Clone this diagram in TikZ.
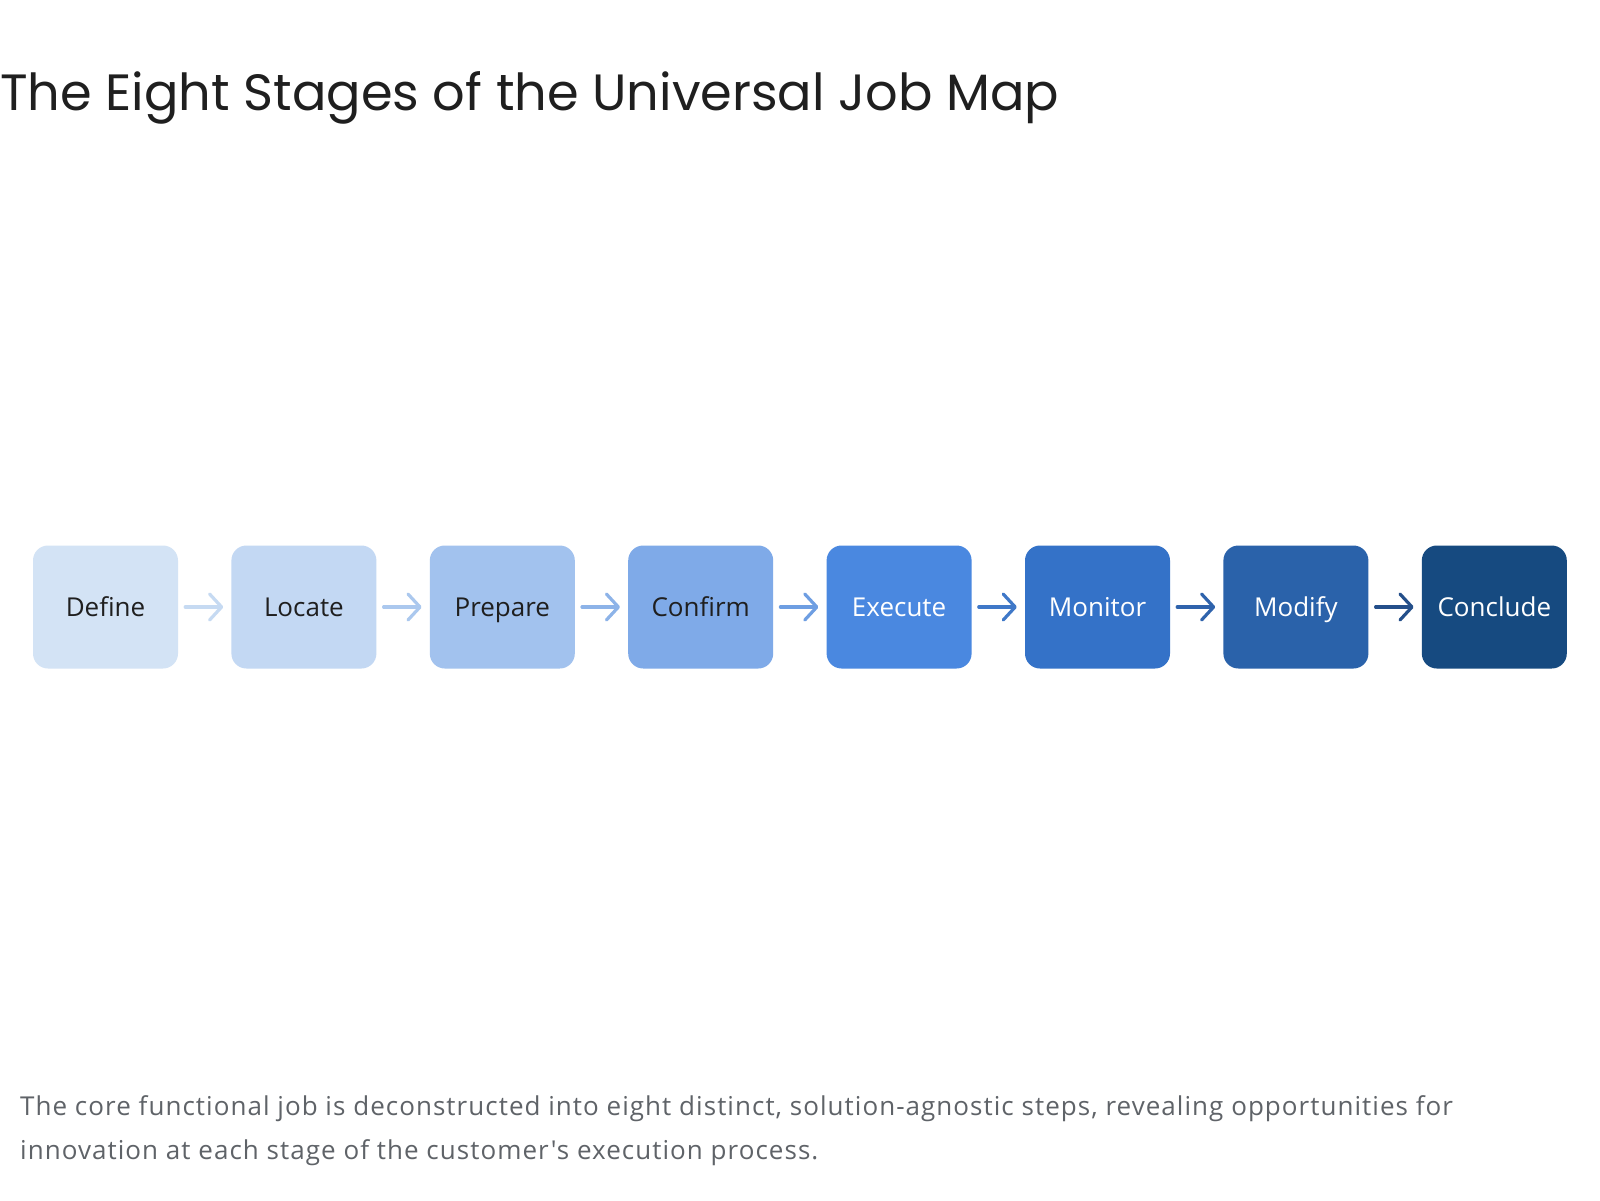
\documentclass[tikz,border=0pt]{standalone}
\usepackage{fontspec}
\setmainfont{Open Sans}
\newfontfamily\titlefont{Poppins}
\newfontfamily\capfont[LetterSpace=4]{Open Sans}
\newfontfamily\boxfont{Open Sans}
\usetikzlibrary{arrows.meta}
\definecolor{cA}{HTML}{D3E3F5}
\definecolor{cB}{HTML}{C3D8F3}
\definecolor{cC}{HTML}{A2C2EE}
\definecolor{cD}{HTML}{7FAAE8}
\definecolor{cE}{HTML}{4A88E0}
\definecolor{cF}{HTML}{3472C8}
\definecolor{cG}{HTML}{2A62AA}
\definecolor{cH}{HTML}{164A80}
\definecolor{aA}{HTML}{C6DAF2}
\definecolor{aB}{HTML}{ABC8EE}
\definecolor{aC}{HTML}{8DB3E8}
\definecolor{aD}{HTML}{6E9EE2}
\definecolor{aE}{HTML}{3F78C8}
\definecolor{aF}{HTML}{2F63AC}
\definecolor{aG}{HTML}{244F8A}
\definecolor{ink}{HTML}{1F1F1F}
\definecolor{capgray}{HTML}{5F6368}
\tikzset{
  stagebox/.style={rounded corners=15pt, minimum width=145pt, minimum height=123pt, inner sep=0pt, text height=19pt, text depth=0pt, font=\boxfont\fontsize{26}{30}\selectfont},
  darktext/.style={text=ink},
  lighttext/.style={text=white},
  flowarrow/.style={line width=3.2pt, line cap=round, -{Straight Barb[length=12pt,width=26pt,line cap=round,line join=round]}},
}
\begin{document}
\begin{tikzpicture}[x=1pt,y=-1pt]
\useasboundingbox (0,0) rectangle (1600,1200);
\fill[white] (0,0) rectangle (1600,1200);
\node[anchor=base west, inner sep=0pt, text=ink, font=\titlefont\fontsize{51}{60}\selectfont] (title) at (0,110) {The Eight Stages of the Universal Job Map};
\foreach \i/\name/\lbl/\col/\tc in {0/s1/Define/cA/darktext,1/s2/Locate/cB/darktext,2/s3/Prepare/cC/darktext,3/s4/Confirm/cD/darktext,4/s5/Execute/cE/lighttext,5/s6/Monitor/cF/lighttext,6/s7/Modify/cG/lighttext,7/s8/Conclude/cH/lighttext}{
  \node[stagebox, fill=\col, \tc] (\name) at ({105.5+198.4*\i},607) {\lbl};
}
\draw[flowarrow, aA] ([xshift=7pt]s1.east) -- ([xshift=-8pt]s2.west);
\draw[flowarrow, aB] ([xshift=7pt]s2.east) -- ([xshift=-8pt]s3.west);
\draw[flowarrow, aC] ([xshift=7pt]s3.east) -- ([xshift=-8pt]s4.west);
\draw[flowarrow, aD] ([xshift=7pt]s4.east) -- ([xshift=-8pt]s5.west);
\draw[flowarrow, aE] ([xshift=7pt]s5.east) -- ([xshift=-8pt]s6.west);
\draw[flowarrow, aF] ([xshift=7pt]s6.east) -- ([xshift=-8pt]s7.west);
\draw[flowarrow, aG] ([xshift=7pt]s7.east) -- ([xshift=-8pt]s8.west);
\node[anchor=base west, inner sep=0pt, text=capgray, font=\capfont\fontsize{26}{30}\selectfont] (cap1) at (20,1115) {The core functional job is deconstructed into eight distinct, solution-agnostic steps, revealing opportunities for};
\node[anchor=base west, inner sep=0pt, text=capgray, font=\capfont\fontsize{26}{30}\selectfont] (cap2) at (20,1159) {innovation at each stage of the customer's execution process.};
\end{tikzpicture}
\end{document}
